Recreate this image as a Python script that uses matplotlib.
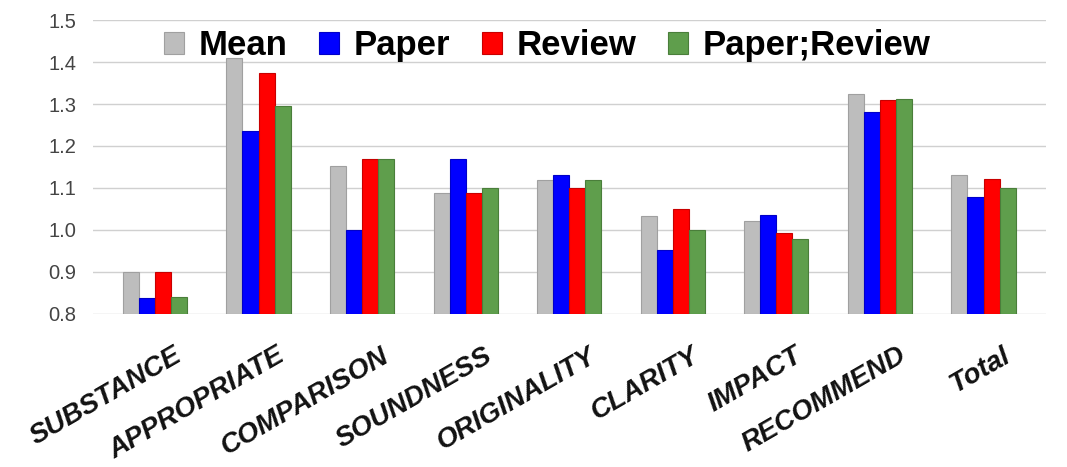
import matplotlib
matplotlib.use("Agg")
import matplotlib.pyplot as plt
import matplotlib.transforms as mtransforms
import numpy as np

categories = ["SUBSTANCE", "APPROPRIATE", "COMPARISON", "SOUNDNESS", "ORIGINALITY",
              "CLARITY", "IMPACT", "RECOMMEND", "Total"]
series_names = ["Mean", "Paper", "Review", "Paper;Review"]
mean_vals = [0.90, 1.41, 1.152, 1.087, 1.119, 1.033, 1.021, 1.324, 1.131]
paper_vals = [0.838, 1.236, 1.00, 1.17, 1.13, 0.952, 1.036, 1.281, 1.079]
review_vals = [0.90, 1.374, 1.17, 1.087, 1.10, 1.05, 0.993, 1.31, 1.121]
pr_vals = [0.84, 1.295, 1.17, 1.10, 1.12, 1.00, 0.978, 1.312, 1.10]
y_ticks = [0.8, 0.9, 1.0, 1.1, 1.2, 1.3, 1.4, 1.5]

colors = ["#bdbdbd", "#0000ff", "#ff0000", "#5f9e4c"]
edge_colors = ["#a0a0a0", "#0000c8", "#c80000", "#4a7e3a"]

plt.rcParams['font.family'] = ['Liberation Sans', 'DejaVu Sans']

fig = plt.figure(figsize=(10.67, 4.67), dpi=100)
ax = fig.add_axes([0.087, 0.328, 0.893, 0.629])

x = np.arange(len(categories))
w = 0.155
all_vals = [mean_vals, paper_vals, review_vals, pr_vals]
base = 0.8
for i, vals in enumerate(all_vals):
    heights = [v - base for v in vals]
    ax.bar(x + (i - 1.5) * w, heights, width=w, bottom=base, color=colors[i],
           edgecolor=edge_colors[i], linewidth=0.8, label=series_names[i], zorder=3)

ax.set_xlim(-0.6, 8.6)
ax.set_ylim(0.8, 1.5)
ax.set_yticks(y_ticks)
ax.set_yticklabels([f"{t:.1f}" for t in y_ticks], fontsize=14.5, color="#444444")
ax.yaxis.grid(True, color="#d0d0d0", linewidth=1.0, zorder=0)
ax.set_axisbelow(True)
for s in ax.spines.values():
    s.set_visible(False)
ax.tick_params(axis='both', length=0)
ax.tick_params(axis='y', pad=12)

ax.set_xticks(x)
ax.set_xticklabels(categories, rotation=30, ha='right', rotation_mode='anchor',
                   fontsize=20, fontweight='bold', fontstyle='italic', color="#111111")
offset = mtransforms.ScaledTranslation(18 / 100, -24 / 100, fig.dpi_scale_trans)
for lbl in ax.get_xticklabels():
    lbl.set_transform(lbl.get_transform() + offset)

leg = ax.legend(loc='upper center', bbox_to_anchor=(0.477, 1.075), ncol=4, frameon=False,
                prop={'weight': 'bold', 'size': 25}, handlelength=0.58, handleheight=0.58,
                handletextpad=0.43, columnspacing=0.9)

fig.savefig("out.png", dpi=100, facecolor="white")
